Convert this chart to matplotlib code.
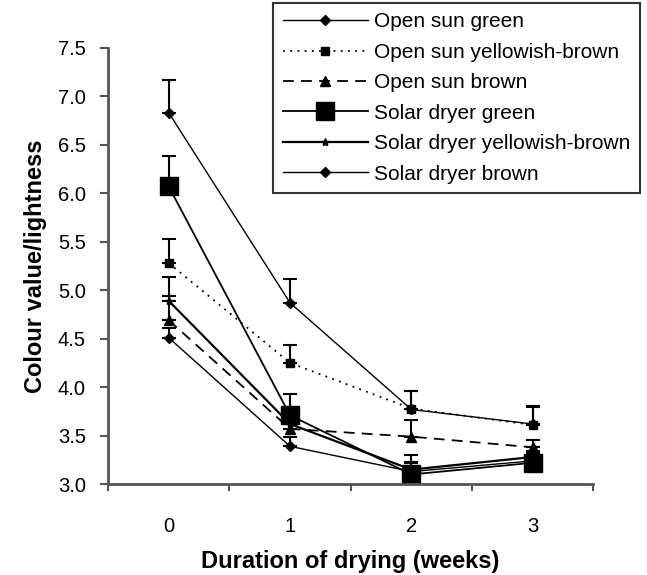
import numpy as np
import matplotlib
matplotlib.use("Agg")
import matplotlib.pyplot as plt

plt.rcParams["font.family"] = ["Liberation Sans", "DejaVu Sans"]

weeks = [0, 1, 2, 3]
week_labels = ["0", "1", "2", "3"]

os_green = [6.83, 4.87, 3.77, 3.62]
os_green_err = [0.34, 0.25, 0.19, 0.18]
os_yb = [5.28, 4.25, 3.78, 3.61]
os_yb_err = [0.25, 0.18, 0.18, 0.20]
os_brown = [4.69, 3.57, 3.49, 3.38]
os_brown_err = [0.25, 0.10, 0.17, 0.08]
sd_green = [6.07, 3.71, 3.10, 3.22]
sd_green_err = [0.31, 0.22, 0.12, 0.10]
sd_yb = [4.89, 3.62, 3.15, 3.28]
sd_yb_err = [0.25, 0.10, 0.15, 0.10]
sd_brown = [4.51, 3.39, 3.13, 3.24]
sd_brown_err = [0.10, 0.10, 0.10, 0.10]

series = [
    ("Open sun green", os_green, os_green_err, "-", "D", 5, 1.0),
    ("Open sun yellowish-brown", os_yb, os_yb_err, (0, (1, 3)), "s", 6, 1.3),
    ("Open sun brown", os_brown, os_brown_err, (0, (6, 4)), "^", 7, 1.3),
    ("Solar dryer green", sd_green, sd_green_err, "-", "s", 13, 1.3),
    ("Solar dryer yellowish-brown", sd_yb, sd_yb_err, "-", "*", 6, 1.6),
    ("Solar dryer brown", sd_brown, sd_brown_err, "-", "D", 5, 1.0),
]

fig = plt.figure(figsize=(6.47, 5.75), dpi=100)
ax = fig.add_axes([0.167, 0.158, 0.75, 0.759])

handles = []
for label, vals, err, ls, mk, ms, lw in series:
    yerr = [np.zeros(len(err)), err]
    ax.errorbar(weeks, vals, yerr=yerr, fmt="none", ecolor="black",
                elinewidth=1.5, capsize=5, capthick=1.5)
    h, = ax.plot(weeks, vals, linestyle=ls, marker=mk, markersize=ms,
                 color="black", linewidth=lw, label=label)
    handles.append(h)

ax.set_xlim(-0.5, 3.5)
ax.set_ylim(3.0, 7.5)
yt = np.arange(3.0, 7.51, 0.5)
ax.set_yticks(yt)
ax.set_yticklabels([f"{v:.1f}" for v in yt])
ax.set_xticks(weeks)
ax.set_xticklabels(week_labels)
ax.set_xticks([-0.5, 0.5, 1.5, 2.5, 3.5], minor=True)
ax.tick_params(axis="x", which="major", length=0, pad=24, labelsize=14.5)
ax.tick_params(axis="x", which="minor", length=5, width=1.5, color="#555555")
ax.tick_params(axis="y", length=6, width=1.5, color="#555555", labelsize=14.5, pad=10)

for side in ["top", "right"]:
    ax.spines[side].set_visible(False)
for side in ["left", "bottom"]:
    ax.spines[side].set_color("#555555")
    ax.spines[side].set_linewidth(2)

ax.set_xlabel("Duration of drying (weeks)", fontsize=17, fontweight="bold", labelpad=10)
ax.set_ylabel("Colour value/lightness", fontsize=17, fontweight="bold", labelpad=8)

leg = fig.legend(handles=handles, loc="upper right", bbox_to_anchor=(640 / 647, 1 - 3 / 575),
                 fontsize=15, frameon=True, fancybox=False, edgecolor="black",
                 handlelength=4.1, numpoints=1, borderpad=0.45, labelspacing=0.55,
                 handletextpad=0.3, borderaxespad=0)
leg.get_frame().set_linewidth(1.5)

plt.savefig("out.png", dpi=100)
